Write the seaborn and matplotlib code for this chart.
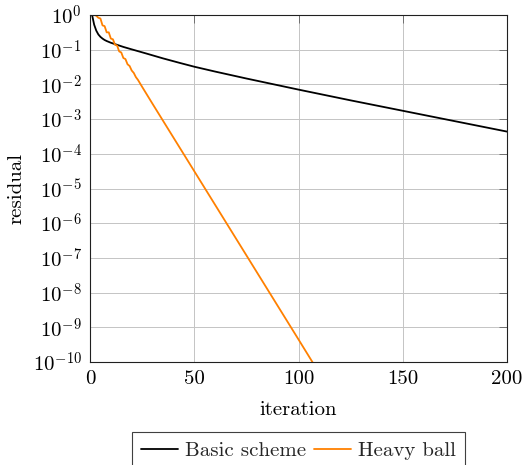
import numpy as np
import pandas as pd
import matplotlib
matplotlib.use("Agg")
import matplotlib.pyplot as plt
import seaborn as sns

# ---- data (log10 of residual) ----
basic_iter = [1, 2, 3, 4, 5, 6, 7, 8, 10, 13, 16, 20, 27, 35, 43, 50, 60, 75,
              100, 125, 150, 175, 200]
basic_log10 = [0.0, -0.28, -0.45, -0.56, -0.63, -0.68, -0.72, -0.75, -0.80,
               -0.86, -0.92, -0.99, -1.11, -1.25, -1.38, -1.49, -1.63, -1.83,
               -2.15, -2.46, -2.76, -3.06, -3.36]

heavy_iter = [1, 2, 3, 4, 5, 6, 7, 8, 9, 10, 11, 12, 13, 14, 15, 16, 17, 18,
              19, 20, 21, 22, 23, 24, 25, 30, 40, 50, 60, 70, 80, 90, 100, 108]
heavy_log10 = [0.0, 0.0, -0.02, -0.08, -0.10, -0.30, -0.32, -0.50, -0.50,
               -0.68, -0.70, -0.86, -0.88, -1.05, -1.08, -1.24, -1.27, -1.42,
               -1.47, -1.60, -1.67, -1.79, -1.87, -1.97, -2.07, -2.56, -3.53,
               -4.50, -5.47, -6.44, -7.41, -8.38, -9.35, -10.13]

series_names = ["Basic scheme", "Heavy ball"]
series_colors = ["#000000", "#ff8000"]
x_ticks = [0, 50, 100, 150, 200]
y_exponents = list(range(-10, 1))

df = pd.concat([
    pd.DataFrame({"iteration": basic_iter,
                  "residual": 10.0 ** np.array(basic_log10),
                  "method": series_names[0]}),
    pd.DataFrame({"iteration": heavy_iter,
                  "residual": 10.0 ** np.array(heavy_log10),
                  "method": series_names[1]}),
], ignore_index=True)

sns.set_theme(style="white")
plt.rcParams["font.family"] = ["cmr10"]
plt.rcParams["mathtext.fontset"] = "cm"
plt.rcParams["axes.formatter.use_mathtext"] = True
plt.rcParams["axes.unicode_minus"] = False

fig = plt.figure(figsize=(5.24, 4.65), dpi=100)
ax = fig.add_axes([90 / 524, 1 - 362 / 465, (507 - 90) / 524, (362 - 15) / 465])

sns.lineplot(data=df, x="iteration", y="residual", hue="method",
             hue_order=series_names, palette=series_colors, estimator=None,
             sort=False, linewidth=1.3, legend=False, ax=ax)

ax.set_yscale("log")
ax.set_xlim(0, 200)
ax.set_ylim(1e-10, 1)
ax.set_xticks(x_ticks)
ax.set_xticklabels([str(t) for t in x_ticks])
ax.set_yticks([10.0 ** e for e in y_exponents])
ax.set_yticklabels([r"$10^{%d}$" % e for e in y_exponents])
ax.yaxis.set_minor_locator(matplotlib.ticker.NullLocator())

ax.grid(True, which="major", color="#c4c4c4", linewidth=0.7)
ax.set_axisbelow(True)
ax.tick_params(axis="both", which="major", direction="in", length=6,
               width=0.7, color="#707070", labelsize=15, labelcolor="black",
               top=True, right=True, pad=6)
for sp in ax.spines.values():
    sp.set_color("#202020")
    sp.set_linewidth(0.8)

ax.set_xlabel("iteration", fontsize=15, labelpad=9, color="black")
ax.set_ylabel("residual", fontsize=15, labelpad=5, color="black")

lines = ax.get_lines()[:2]
leg = ax.legend(lines, series_names, loc="upper center",
                bbox_to_anchor=(0.5, 1 - 432 / 465),
                bbox_transform=matplotlib.transforms.blended_transform_factory(
                    ax.transAxes, fig.transFigure),
                ncol=2, fontsize=15,
                frameon=True, fancybox=False, framealpha=1, edgecolor="#404040",
                handlelength=1.75, handletextpad=0.35, columnspacing=0.4,
                borderpad=0.45, borderaxespad=0)
leg.get_frame().set_linewidth(0.8)

fig.savefig("out.png", dpi=100)
